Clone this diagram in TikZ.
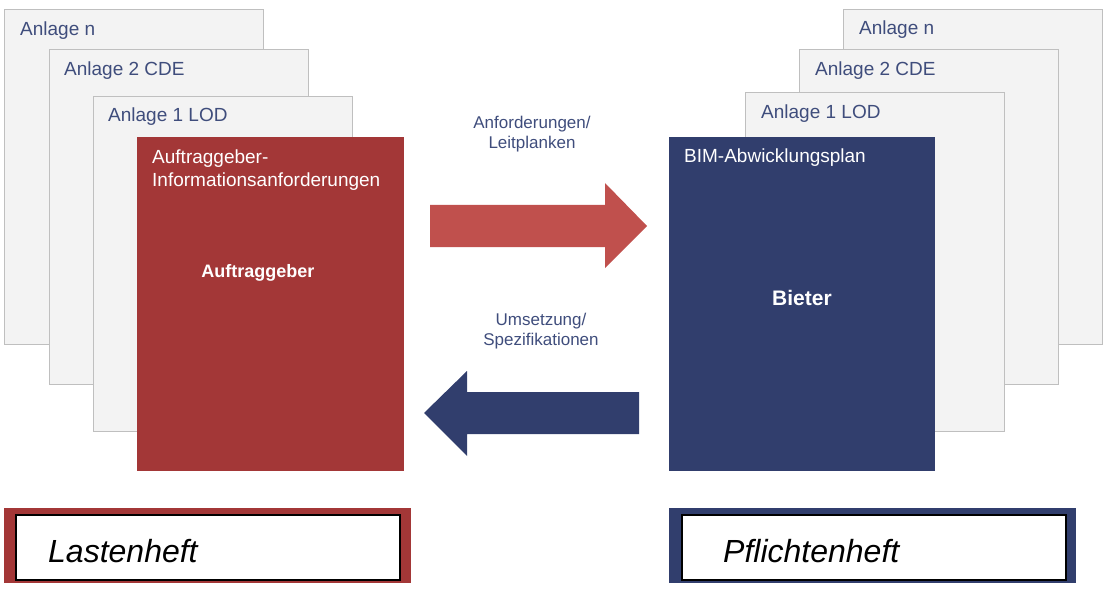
\documentclass[tikz,border=0pt]{standalone}
\usepackage{fontspec}
\setmainfont{Liberation Sans}
\newfontfamily\handfont{Liberation Sans}[UprightFont=*-Italic]
\usetikzlibrary{positioning}
\definecolor{sheetfill}{HTML}{F3F3F3}
\definecolor{sheetline}{HTML}{BFBFBF}
\definecolor{agred}{HTML}{A33737}
\definecolor{arrowred}{HTML}{C0504D}
\definecolor{bieterblue}{HTML}{313E6D}
\definecolor{textblue}{HTML}{3F4D7C}

\begin{document}
\begin{tikzpicture}[x=1pt,y=-1pt,
    sheet/.style={draw=sheetline,fill=sheetfill,line width=1.3pt,anchor=north west,inner sep=0pt,minimum width=259pt,minimum height=335pt},
    sheetlabel/.style={anchor=base west,inner sep=0pt,text=textblue,font=\fontsize{19}{23}\selectfont},
    mainbox/.style={anchor=north west,inner sep=0pt,minimum width=267pt,minimum height=334pt},
    boxtitle/.style={anchor=base west,inner sep=0pt,text=white,align=left,font=\fontsize{19}{23}\selectfont},
    flowlabel/.style={inner sep=0pt,text=textblue,align=center,font=\fontsize{17}{20}\selectfont},
    heftframe/.style={anchor=north west,inner sep=0pt,minimum width=407pt,minimum height=75pt},
    heftfield/.style={draw=black,fill=white,line width=2pt,anchor=north west,inner sep=0pt,minimum width=384pt,minimum height=65pt},
    hefttext/.style={anchor=base west,inner sep=0pt,font=\handfont\fontsize{32}{36}\selectfont}]
        \useasboundingbox (0,0) rectangle (1112,591);
        % Auftraggeber side
        \node[sheet] (agn) at (4,9) {};
        \node[sheet] (ag2) at (49,49) {};
        \node[sheet] (ag1) at (93,96) {};
        \node[sheetlabel] (agnlabel) at (20,36) {Anlage n};
        \node[sheetlabel] (ag2label) at (64,76) {Anlage 2 CDE};
        \node[sheetlabel] (ag1label) at (108,122) {Anlage 1 LOD};
        \node[mainbox,fill=agred] (aia) at (137,137) {};
        \node[boxtitle] (aiatitle) at (152,186) {Auftraggeber-\\Informationsanforderungen};
        \node[text=white,font=\bfseries\fontsize{18}{22}\selectfont] (ag) at (258,273) {Auftraggeber};
        % Bieter side
        \node[sheet] (bin) at (843,9) {};
        \node[sheet] (bi2) at (799,49) {};
        \node[sheet,minimum height=339pt] (bi1) at (745,92) {};
        \node[sheetlabel] (binlabel) at (859,35) {Anlage n};
        \node[sheetlabel] (bi2label) at (815,76) {Anlage 2 CDE};
        \node[sheetlabel] (bi1label) at (761,119) {Anlage 1 LOD};
        \node[mainbox,fill=bieterblue,minimum width=266pt] (bap) at (669,137) {};
        \node[boxtitle] (baptitle) at (684,163) {BIM-Abwicklungsplan};
        \node[text=white,font=\bfseries\fontsize{21}{25}\selectfont] (bieter) at (802,298) {Bieter};
        % flows between the two parties
        \node[flowlabel] (req) at (532,134) {Anforderungen/\\Leitplanken};
        \node[flowlabel] (spec) at (541,331) {Umsetzung/\\Spezifikationen};
        \fill[arrowred] (430,205) -- (605,205) -- (605,183) -- (647,226) -- (605,268) -- (605,247) -- (430,247) -- cycle;
        \fill[bieterblue] (639,392) -- (467,392) -- (467,371) -- (424,413) -- (467,456) -- (467,434) -- (639,434) -- cycle;
        % Lastenheft / Pflichtenheft
        \node[heftframe,fill=agred] (lastenframe) at (4,508) {};
        \node[heftfield] (lastenfield) at (15,514) {};
        \node[hefttext] (lasten) at (48,562) {Lastenheft};
        \node[heftframe,fill=bieterblue] (pflichtframe) at (669,508) {};
        \node[heftfield] (pflichtfield) at (681,514) {};
        \node[hefttext] (pflicht) at (723,562) {Pflichtenheft};
    \end{tikzpicture}
\end{document}
